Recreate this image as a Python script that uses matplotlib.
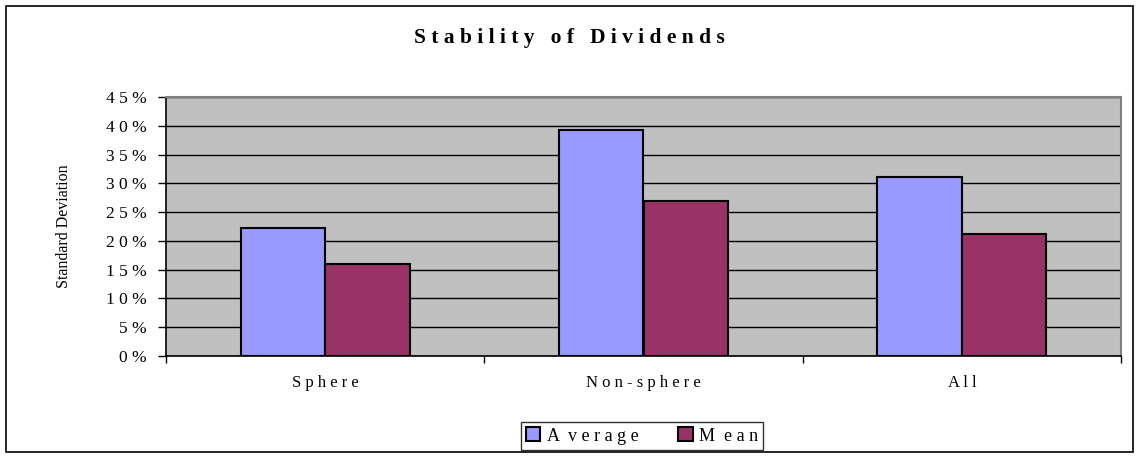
import matplotlib.pyplot as plt
import numpy as np
from matplotlib.patches import Rectangle

# data (percent)
categories = ["S p h e r e", "N o n - s p h e r e", "A l l"]
average = [22.2, 39.3, 31.1]
mean = [16.0, 26.9, 21.2]
y_ticks = [0, 5, 10, 15, 20, 25, 30, 35, 40, 45]
y_labels = [" ".join(str(t)) + " %" for t in y_ticks]

plt.rcParams['font.family'] = ['Liberation Serif', 'DejaVu Serif']

fig = plt.figure(figsize=(11.39, 4.57), dpi=100)
fig.patches.append(Rectangle((6 / 1139, 5 / 457), 1127 / 1139, 446 / 457,
                             transform=fig.transFigure, fill=False,
                             edgecolor='black', linewidth=1.2))

ax = fig.add_axes([166 / 1139, 1 - 356 / 457, (1121 - 166) / 1139, (356 - 97) / 457])
ax.set_facecolor('#c0c0c0')

x = np.arange(len(categories))
w = 0.265
ax.bar(x - w / 2, average, w, color='#9999ff', edgecolor='black', linewidth=1.5,
       label='A  v e r a g e', zorder=3)
ax.bar(x + w / 2, mean, w, color='#993366', edgecolor='black', linewidth=1.5,
       label='M  e a n', zorder=3)

ax.set_xlim(-0.5, len(categories) - 0.5)
ax.set_ylim(0, 45)
ax.set_yticks(y_ticks)
ax.set_yticklabels(y_labels, fontsize=12.5)
ax.yaxis.grid(True, color='black', linewidth=1, zorder=1)
ax.set_axisbelow(True)

ax.set_xticks(x)
ax.set_xticklabels(categories, fontsize=12)
ax.tick_params(axis='x', length=0, pad=14)
ax.set_xticks(np.arange(-0.5, len(categories)), minor=True)
ax.tick_params(axis='x', which='minor', length=5, direction='out', width=1)
ax.tick_params(axis='y', length=6, direction='out', width=1, pad=8)

for side in ['top', 'right']:
    ax.spines[side].set_color('#808080')
    ax.spines[side].set_linewidth(1.5)
ax.spines['left'].set_linewidth(1.2)
ax.spines['bottom'].set_linewidth(1.2)

ax.set_ylabel('Standard Deviation', fontsize=11.5, labelpad=24)

fig.text(0.5, 1 - 38 / 457, 'S t a b i l i t y   o f   D i v i d e n d s',
         ha='center', va='center', fontsize=15.5, fontweight='bold')

leg = fig.legend(loc='center', bbox_to_anchor=(642 / 1139, 1 - 436 / 457), ncol=2,
                 frameon=True, fancybox=False, edgecolor='black', fontsize=13,
                 handlelength=0.8, handleheight=0.8, handletextpad=0.35,
                 columnspacing=2.2, borderpad=0.3, borderaxespad=0)
leg.get_frame().set_linewidth(1)

fig.savefig('out.png', dpi=100)
